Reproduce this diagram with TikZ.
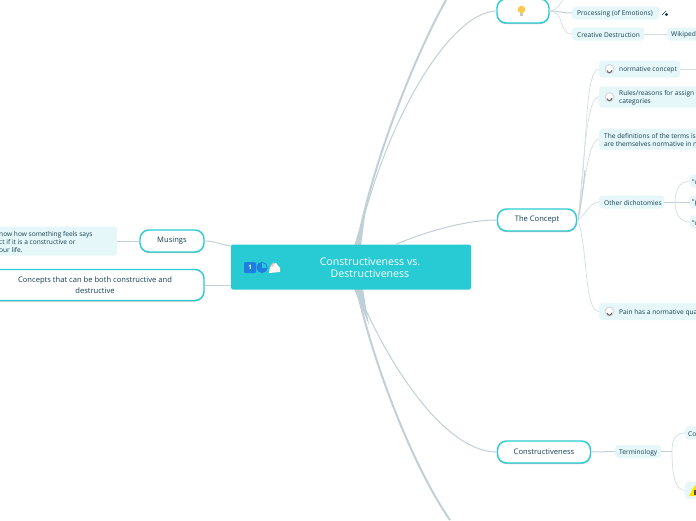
\documentclass[tikz,border=0pt]{standalone}
\usepackage{fontspec}
\setmainfont{Open Sans}
\usetikzlibrary{calc,shadows}
\definecolor{ink}{HTML}{153F51}
\definecolor{tealC}{HTML}{28CBD3}
\definecolor{paleC}{HTML}{E6F7F9}
\definecolor{linkC}{HTML}{BFD0D6}
\definecolor{iconB}{HTML}{1E7FE0}
\tikzset{
  rootbox/.style={fill=tealC,rounded corners=2pt,minimum width=240pt,minimum height=45pt,inner sep=0pt},
  topic/.style={draw=tealC,line width=1.4pt,fill=white,rounded corners=9pt,font=\fontsize{7.6}{10.5}\selectfont,text=ink,align=center,inner sep=0pt,
    drop shadow={shadow xshift=0pt,shadow yshift=-1pt,fill=gray!70,opacity=.8}},
  sub/.style={fill=paleC,rounded corners=3pt,inner sep=0pt,anchor=west},
  lab/.style={font=\fontsize{6.6}{8.2}\selectfont,text=ink,align=left,anchor=west,inner sep=0pt,yshift=-.8pt},
  fat/.style={linkC,line width=2pt},
  mid/.style={linkC,line width=1pt},
  thin/.style={linkC!70,line width=.7pt}}
\newcommand{\headset}[1]{\fill[gray!30] (#1) circle (5);\fill[white] (#1) circle (3.6);\draw[gray!80!black,line width=1pt] ($(#1)+(-2.2,1.5)$) arc (180:-10:2.2);}
\begin{document}
\begin{tikzpicture}[x=1pt,y=-1pt]
\useasboundingbox (0,0) rectangle (696,520);
% connectors first
\coordinate (cUp) at (357,245);\coordinate (cDn) at (357,290);
\coordinate (offTop) at (446,0);\coordinate (offBot) at (450,520);
\draw[fat] (cUp) .. controls (371,170) and (410,65) .. (offTop);
\node[topic,minimum width=52pt,minimum height=24pt] (bulb) at (523,11) {};
\node[topic,minimum width=79pt,minimum height=22pt] (concept) at (537,220) {The Concept};
\node[topic,minimum width=93pt,minimum height=22pt] (cons) at (544,452) {Constructiveness};
\node[topic,minimum width=64pt,minimum height=22pt] (mus) at (172,241) {Musings};
\node[topic,minimum width=218pt,minimum height=31pt] (both) at (95,285) {Concepts that can be both constructive and\\destructive};
\fill[linkC] (354,246) -- (361,246) -- (366,208) -- cycle;
\fill[linkC] (354,289) -- (363,289) -- (369,325) -- cycle;
\node[rootbox] (root) at (351,267) {};
\draw[mid] (cUp) .. controls (385,120) and (450,12) .. (bulb.west);
\draw[mid] ($(root.north)+(45,0)$) .. controls (425,232) and (465,220) .. (concept.west);
\draw[mid] (cDn) .. controls (395,380) and (450,452) .. (cons.west);
\draw[fat] (cDn) .. controls (375,370) and (415,470) .. (offBot);
\draw[mid] (mus.east) .. controls (215,241) and (222,245) .. (root.west |- 0,246);
\draw[mid] (both.east) -- (root.west |- 0,285);
% root
\node[font=\fontsize{10.6}{12.5}\selectfont,text=white,align=center,yshift=-.8pt] (rootText) at (370,267) {Constructiveness vs.\\Destructiveness};
\fill[iconB,rounded corners=1pt] (244,262) rectangle (256,273);
\node[font=\bfseries\fontsize{6}{6}\selectfont,text=white,inner sep=0pt] (one) at (250,267.5) {1};
\fill[iconB] (262,267.5) circle (5.6);
\begin{scope}
\clip (262,267.5) rectangle (269,261);
\fill[tealC] (262,267.5) circle (4.6);
\end{scope}
\fill[white!85!pink] (269,273) .. controls (269,266) and (273,263) .. (276,263) -- (280,268) -- (280,272) -- cycle;
\fill[pink] (270,266) -- (274,262) -- (273,267) -- cycle;
% left
\node[sub,minimum width=122pt,minimum height=29pt] (musText) at (-5,241) {};
\node[lab] (musLab) at (-1,241) {now how something feels says\\ct if it is a constructive or\\our life.};
\draw[mid] (musText.east) -- (mus.west);
% bulb branch
\node[sub,minimum width=87pt,minimum height=13pt] (proc) at (572,13) {};
\node[lab] (procLab) at (577,13) {Processing (of Emotions)};
\node[sub,minimum width=72pt,minimum height=13pt] (creat) at (572,34) {};
\node[lab] (creatLab) at (577,34) {Creative Destruction};
\node[sub,minimum width=40pt,minimum height=13pt] (wiki) at (667,34) {};
\node[lab] (wikiLab) at (671,34) {Wikipedi};
\draw[mid] (bulb.east) .. controls (560,11) and (560,13) .. (proc.west);
\draw[thin] (bulb.east) .. controls (565,11) and (558,34) .. (creat.west);
\draw[thin] (bulb.east) .. controls (558,11) and (562,0) .. (565,-4);
\draw[thin] (creat.east) -- (wiki.west);
\fill[ink] (666.5,14.5) circle (1.7);\draw[ink,line width=.6pt] (662,15) -- (666,11);
\fill[yellow!45!orange!70] (521.5,9.5) circle (3.8);
\fill[gray!45] (520,13) rectangle (523,16);
% concept branch
\node[sub,minimum width=81pt,minimum height=17pt] (norm) at (599,69) {};
\node[lab] (normLab) at (619,69) {normative concept};
\node[sub,minimum width=110pt,minimum height=21pt] (rules) at (599,97) {};
\node[lab] (rulesLab) at (619,97) {Rules/reasons for assign\\categories};
\node[sub,minimum width=110pt,minimum height=21pt] (defs) at (599,139) {};
\node[lab] (defsLab) at (604,139) {The definitions of the terms is\\are themselves normative in n};
\node[sub,minimum width=65pt,minimum height=13pt] (other) at (599,202) {};
\node[lab] (otherLab) at (604,202) {Other dichotomies};
\node[sub,minimum width=110pt,minimum height=17pt] (pain) at (599,311.5) {};
\node[lab] (painLab) at (619,311.5) {Pain has a normative qua};
\node[sub,minimum width=30pt,minimum height=13pt] (qA) at (690,181) {};
\node[lab] (qALab) at (692,181) {"c};
\node[sub,minimum width=30pt,minimum height=13pt] (qB) at (690,202) {};
\node[lab] (qBLab) at (692,202) {"p};
\node[sub,minimum width=30pt,minimum height=13pt] (qC) at (690,222) {};
\node[lab] (qCLab) at (692,222) {"c};
\coordinate (fork) at (578,220);
\coordinate (spineQ) at (675,202);
\draw[thin] (norm.east) -- (696,69);
\draw[mid] (concept.east) -- (fork);
\draw[thin] (fork) .. controls (588,150) and (584,70) .. (norm.west);
\draw[thin] (fork) .. controls (585,150) and (587,97) .. (rules.west);
\draw[thin] (fork) .. controls (584,190) and (588,139) .. (defs.west);
\draw[mid] (fork) .. controls (581,205) and (583,190) .. (585,170);
\draw[thin] (fork) .. controls (588,212) and (590,202) .. (other.west);
\draw[thin] (fork) .. controls (588,250) and (584,311) .. (pain.west);
\draw[mid] (other.east) -- (qB.west);
\draw[thin] (spineQ) .. controls (675,190) and (680,181) .. (qA.west);
\draw[thin] (spineQ) .. controls (675,214) and (680,222) .. (qC.west);
\headset{609.5,69}\headset{609.5,97}\headset{609.5,311.5}
% constructiveness branch
\node[sub,minimum width=46pt,minimum height=13pt] (term) at (615,451.5) {};
\node[lab] (termLab) at (619,451.5) {Terminology};
\node[sub,minimum width=30pt,minimum height=13pt] (coA) at (685,433) {};
\node[lab] (coALab) at (688,433) {Co};
\node[sub,minimum width=30pt,minimum height=17pt] (warn) at (685,490.5) {};
\coordinate (spineT) at (672,451.5);
\draw[mid] (cons.east) -- (term.west);
\draw[mid] (term.east) -- (spineT);
\draw[thin] (spineT) .. controls (672,440) and (675,433) .. (coA.west);
\draw[thin] (spineT) .. controls (672,475) and (675,490) .. (warn.west);
\fill[yellow!85!orange] (689,496) -- (695,485) -- (701,496) -- cycle;
\fill[black!70] (693.5,490) rectangle (696,495);
\end{tikzpicture}
\end{document}
